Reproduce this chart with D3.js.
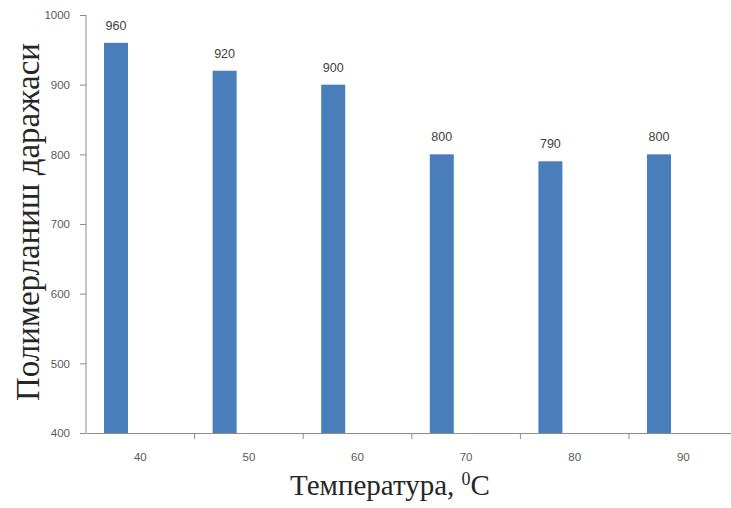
<!DOCTYPE html>
<html>
<head>
<meta charset="utf-8">
<script src="https://cdn.jsdelivr.net/npm/d3@7"></script>
<style>
  body { margin: 0; background: #fff; }
  svg { display: block; }
</style>
</head>
<body>
<div class="chart"></div>
<script>
// data
const temps = ['40', '50', '60', '70', '80', '90'];
const degree = [960, 920, 900, 800, 790, 800];
const yTicks = [400, 500, 600, 700, 800, 900, 1000];

const W = 731, H = 508;
const margin = {top: 15, left: 86, bottom: 75};
const plotH = H - margin.top - margin.bottom;

const svg = d3.select('.chart').append('svg')
    .attr('width', W)
    .attr('height', H);

// scales
const xScale = d3.scaleBand()
    .domain(temps)
    .range([margin.left, margin.left + 6 * 108.6]);

const yScale = d3.scaleLinear()
    .domain([400, 1000])
    .range([margin.top + plotH, margin.top]);

const axisColor = '#8c8c8c';
const barW = 24, barOff = 18;

// bars
svg.selectAll('.bar')
    .data(temps)
    .enter()
    .append('rect')
    .attr('class', 'bar')
    .attr('x', (d, i) => xScale(d) + barOff)
    .attr('y', (d, i) => yScale(degree[i]))
    .attr('width', barW)
    .attr('height', (d, i) => yScale(400) - yScale(degree[i]))
    .attr('fill', '#4a7ebb');

// value labels
svg.selectAll('.val')
    .data(temps)
    .enter()
    .append('text')
    .attr('class', 'val')
    .attr('x', (d, i) => xScale(d) + barOff + barW / 2)
    .attr('y', (d, i) => yScale(degree[i]) - 13)
    .attr('text-anchor', 'middle')
    .attr('font-family', 'Liberation Sans, Arial, sans-serif')
    .attr('font-size', 12.5)
    .attr('fill', '#404040')
    .text((d, i) => degree[i]);

// y axis
const yAxis = d3.axisLeft(yScale)
    .tickValues(yTicks)
    .tickFormat(d3.format('d'))
    .tickSize(6)
    .tickPadding(10);

const gy = svg.append('g')
    .attr('transform', `translate(${margin.left},0)`)
    .call(yAxis);
gy.select('.domain').attr('stroke', axisColor).attr('d', `M0,${yScale(1000)}V${yScale(400)}`);
gy.selectAll('.tick line').attr('stroke', axisColor);
gy.selectAll('.tick text')
    .attr('fill', '#595959')
    .attr('font-family', 'Liberation Sans, Arial, sans-serif')
    .attr('font-size', 11.5);

// x axis
const xAxis = d3.axisBottom(xScale)
    .tickSize(0)
    .tickPadding(20);

const gx = svg.append('g')
    .attr('transform', `translate(0,${yScale(400)})`)
    .call(xAxis);
gx.select('.domain').attr('stroke', axisColor);
gx.selectAll('.tick text')
    .attr('fill', '#595959')
    .attr('font-family', 'Liberation Sans, Arial, sans-serif')
    .attr('font-size', 11.5);

// x tick marks between categories
gx.selectAll('.sep')
    .data(temps.slice(1))
    .enter()
    .append('line')
    .attr('x1', d => xScale(d))
    .attr('x2', d => xScale(d))
    .attr('y1', 0)
    .attr('y2', 6)
    .attr('stroke', axisColor);

// axis titles
svg.append('text')
    .attr('transform', `translate(39,${(yScale(1000) + yScale(400)) / 2 - 2}) rotate(-90)`)
    .attr('text-anchor', 'middle')
    .attr('font-family', 'Liberation Serif, Times New Roman, serif')
    .attr('font-size', 33)
    .attr('fill', '#262626')
    .text('Полимерланиш даражаси');

const xt = svg.append('text')
    .attr('x', 390)
    .attr('y', 495)
    .attr('text-anchor', 'middle')
    .attr('font-family', 'Liberation Serif, Times New Roman, serif')
    .attr('font-size', 29)
    .attr('fill', '#262626');
xt.append('tspan').text('Температура, ');
xt.append('tspan').attr('dy', -10).attr('font-size', 18).text('0');
xt.append('tspan').attr('dy', 10).text('C');
</script>
</body>
</html>
